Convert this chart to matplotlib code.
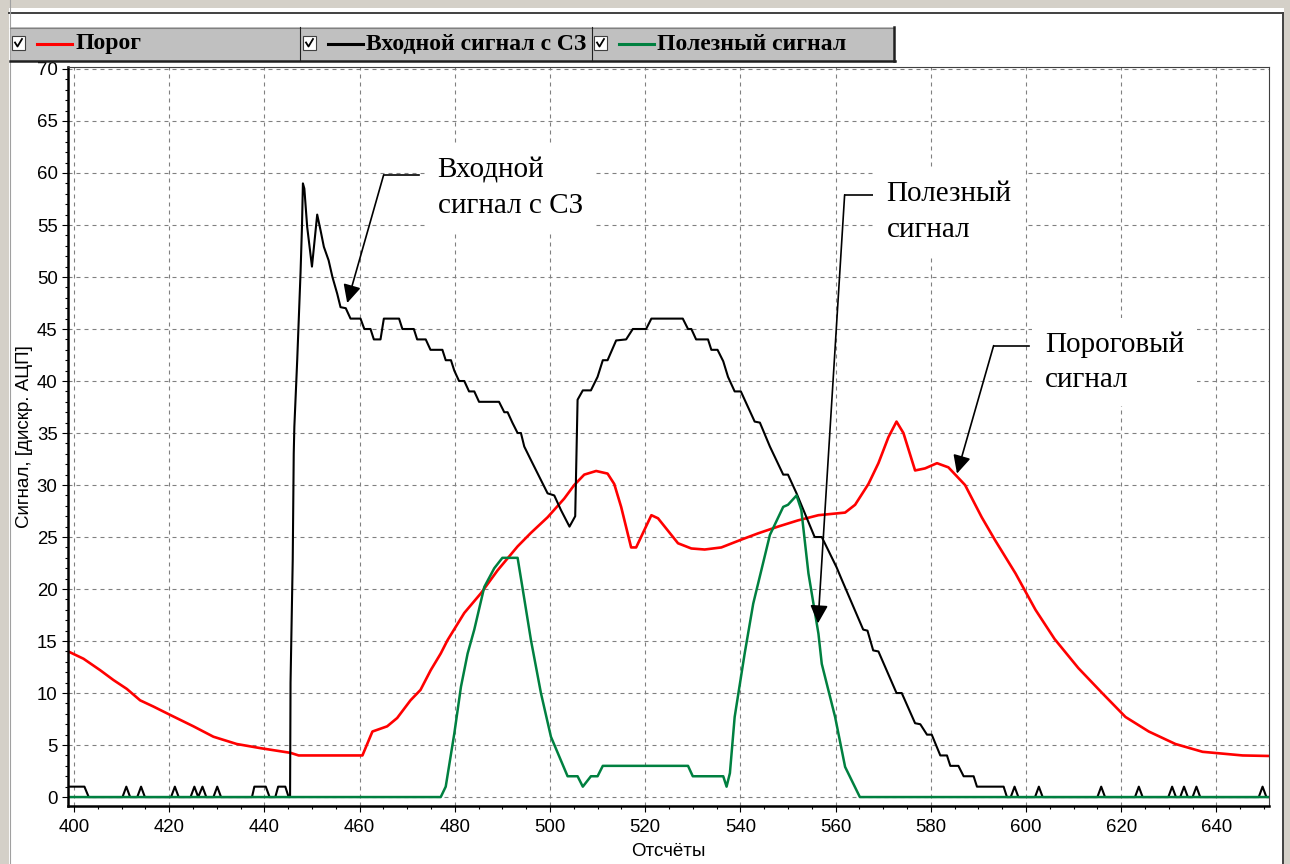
import matplotlib
matplotlib.use("Agg")
import matplotlib.pyplot as plt
from matplotlib.patches import Rectangle
from matplotlib.lines import Line2D
from matplotlib.ticker import MultipleLocator
from matplotlib.transforms import Affine2D

# values (breakpoints of each trace)
porog_x = [398.8, 402.0, 405.5, 408.3, 411.1, 413.9, 416.7, 420.2, 425.1, 429.3,
           434.2, 439.2, 445.5, 447.2, 460.6, 462.7, 465.8, 467.9, 470.7, 472.8,
           474.95, 477.05, 478.5, 482.0, 485.5, 489.0, 493.2, 496.0, 499.5, 503.0,
           505.1, 507.2, 509.7, 512.1, 513.5, 514.95, 517.05, 518.1, 521.3, 522.7,
           526.9, 529.7, 532.5, 536.0, 540.2, 543.7, 547.9, 552.1, 556.4, 562.0,
           564.1, 566.9, 569.0, 571.1, 572.8, 574.25, 576.7, 578.8, 581.3, 583.7,
           587.2, 590.7, 593.5, 597.8, 602.0, 606.0, 611.0, 616.0, 620.9, 625.8,
           631.4, 637.1, 645.5, 651.0]
porog_y = [14.0, 13.3, 12.2, 11.25, 10.4, 9.3, 8.7, 7.9, 6.8, 5.8,
           5.1, 4.7, 4.25, 4.0, 4.0, 6.3, 6.8, 7.6, 9.3, 10.3,
           12.2, 13.8, 15.1, 17.7, 19.6, 21.8, 24.1, 25.4, 26.9, 28.7,
           30.0, 31.0, 31.35, 31.1, 30.1, 27.9, 24.0, 24.0, 27.1, 26.8,
           24.4, 23.9, 23.8, 24.0, 24.75, 25.35, 26.0, 26.6, 27.1, 27.35,
           28.1, 30.1, 32.1, 34.6, 36.1, 35.0, 31.4, 31.6, 32.1, 31.7,
           30.0, 26.9, 24.7, 21.5, 18.0, 15.2, 12.4, 10.0, 7.7, 6.3,
           5.1, 4.35, 4.0, 3.95]

vhod_x = [398.8, 402.2, 403.1,
          410.2, 411.0, 411.8, 413.3, 414.1, 414.9, 420.4, 421.2, 422.0,
          424.5, 425.3, 426.1, 427.0, 427.8, 429.3, 430.1, 430.9,
          437.4, 437.9, 440.3, 441.1, 442.3, 442.9, 444.4, 445.1,
          445.4, 445.5, 445.96, 446.17, 446.3, 446.9, 447.6, 447.9, 448.1, 448.4,
          449.0, 450.0, 451.1, 451.8, 452.5, 453.5, 454.3, 455.3, 456.0, 457.1,
          458.1, 460.2, 461.0, 462.3, 463.0, 464.4, 465.1, 468.3, 469.0, 471.4,
          472.1, 473.9, 474.9, 477.4, 478.1, 479.2, 479.9, 480.9, 482.0, 483.0,
          484.1, 485.1, 489.3, 490.4, 491.1, 492.1, 493.2, 493.9, 494.6, 496.0,
          499.5, 500.9, 502.3, 504.1, 505.3, 505.8, 506.9, 508.6, 510.0, 511.1,
          512.1, 513.9, 516.0, 517.4, 520.2, 521.3, 527.9, 529.0, 529.7, 530.7,
          533.2, 533.9, 535.2, 536.4, 537.4, 538.8, 540.1, 543.0, 544.1, 546.2,
          549.0, 550.0, 551.8, 555.6, 557.1, 560.2, 561.3, 565.8, 566.7, 567.9,
          569.0, 572.8, 573.9, 576.7, 577.8, 579.2, 580.2, 582.0, 583.4, 584.1,
          585.8, 586.9, 589.0, 589.7, 595.3, 596.0,
          596.8, 597.6, 598.4, 601.9, 602.7, 603.5, 615.0, 615.8, 616.6,
          622.9, 623.7, 624.5, 629.9, 630.7, 631.5, 632.4, 633.2, 634.0,
          635.0, 635.8, 636.6, 648.9, 649.7, 650.5, 651.0]
vhod_y = [1, 1, 0,
          0, 1, 0, 0, 1, 0, 0, 1, 0,
          0, 1, 0, 1, 0, 0, 1, 0,
          0, 1, 1, 0, 0, 1, 1, 0,
          0, 11, 22.8, 33, 35.6, 42, 50.4, 54.8, 59, 58.5,
          54.8, 51.0, 56.0, 54.5, 52.9, 51.6, 50.0, 48.4, 47.1, 47,
          46, 46, 45, 45, 44, 44, 46, 46, 45, 45,
          44, 44, 43, 43, 42, 42, 41, 40, 40, 39,
          39, 38, 38, 37, 37, 36, 35, 35, 33.7, 32.4,
          29.2, 29.0, 27.6, 26.0, 27.0, 38.2, 39.1, 39.1, 40.4, 42,
          42, 43.9, 44, 45, 45, 46, 46, 45, 45, 44,
          44, 43, 43, 41.9, 40.4, 39, 39, 36.1, 36, 33.7,
          31, 31, 29.2, 25, 25, 22.1, 20.9, 16.1, 16, 14.1,
          14, 10, 10, 7.1, 7, 6, 6, 4, 4, 3,
          3, 2, 2, 1, 1, 0,
          0, 1, 0, 0, 1, 0, 0, 1, 0,
          0, 1, 0, 0, 1, 0, 0, 1, 0,
          0, 1, 0, 0, 1, 0, 0]

polezn_x = [398.8, 477.05, 478.1, 479.9, 481.3, 482.7, 484.1, 486.2, 488.3, 490.0,
            493.2, 494.2, 496.0, 498.1, 500.2, 503.7, 505.8, 506.9, 508.6, 510.0,
            511.1, 529.0, 530.0, 536.4, 537.1, 537.8, 538.8, 540.9, 542.7, 544.4,
            546.2, 549.0, 550.0, 551.8, 552.8, 554.3, 556.4, 557.1, 559.9, 562.0,
            565.1, 651.0]
polezn_y = [0, 0, 1.0, 6.1, 10.6, 13.8, 16.1, 20.2, 22.0, 23.0,
            23.0, 20.2, 15.1, 10.0, 5.8, 2.0, 2.0, 1.0, 2.0, 2.0,
            3.0, 3.0, 2.0, 2.0, 1.0, 2.3, 7.7, 13.8, 18.6, 21.8,
            25.2, 27.9, 28.1, 29.0, 27.6, 21.5, 15.7, 12.8, 7.7, 2.9,
            0, 0]

series_names = ["Порог", "Входной сигнал с СЗ", "Полезный сигнал"]
series_colors = ["#ff0000", "#000000", "#008040"]

x_label = "Отсчёты"
y_label = "Сигнал, [дискр. АЦП]"

# callouts: text, text top-left, elbow, end of shelf, arrow tip (data units)
callouts = [
    ("Входной\nсигнал с СЗ", (476.4, 61.5), (465.05, 59.8), (472.4, 59.8), (457.4, 47.5)),
    ("Полезный\nсигнал", (570.7, 59.2), (561.9, 57.9), (569.7, 57.9), (556.3, 16.7)),
    ("Пороговый\nсигнал", (604.0, 44.8), (593.2, 43.4), (600.6, 43.4), (585.5, 31.1)),
]

W, H = 1290, 864
fig = plt.figure(figsize=(W / 100, H / 100), dpi=100)
px = Affine2D().scale(1 / W, -1 / H).translate(0, 1) + fig.transFigure


def box(x0, y0, x1, y1, z=-10, **kw):
    fig.add_artist(Rectangle((x0, y0), x1 - x0, y1 - y0, transform=px, zorder=z, **kw))


def seg(xs, ys, z=5, **kw):
    fig.add_artist(Line2D(xs, ys, transform=px, zorder=z, **kw))


# window frame
box(0, 0, W, H, facecolor="#d4d0c8", edgecolor="none")
box(9, 8, 1284, H, facecolor="white", edgecolor="none")
seg([9, 1283], [12.5, 12.5], color="#404040", lw=1.4)
seg([1282.5, 1282.5], [12.5, H], color="#404040", lw=1.4)
seg([9.5, 9.5], [0, H], color="#a0a0a0", lw=0.8)

# legend strip like the original program
box(10, 27, 894, 61, z=4, facecolor="#c0c0c0", edgecolor="none")
seg([10, 894], [27.5, 27.5], color="#808080", lw=0.8)
seg([10, 895], [60.5, 60.5], color="#202020", lw=1.8)
seg([894, 894], [27, 61], color="#202020", lw=1.8)
for xs in (299.5, 591.5):
    seg([xs, xs], [27, 61], color="#202020", lw=0.8)

cells = [12, 303, 594]
for x0, name, col in zip(cells, series_names, series_colors):
    box(x0, 36, x0 + 13, 50, z=5, facecolor="white", edgecolor="#404040", lw=0.8)
    seg([x0 + 3, x0 + 5.5, x0 + 10], [42.5, 46.5, 39], z=6, color="black", lw=1.3)
    seg([x0 + 25, x0 + 60], [43.5, 43.5], color=col, lw=2.2)
    fig.text((x0 + 63) / W, 1 - 44 / H, name, fontsize=17, fontweight="bold",
             family="Liberation Serif", ha="left", va="center", zorder=6)

ax = fig.add_axes([68 / W, 1 - 806 / H, (1269 - 68) / W, (806 - 66.7) / H])
ax.set_facecolor("white")

ax.plot(porog_x, porog_y, color=series_colors[0], lw=1.9)
ax.plot(vhod_x, vhod_y, color=series_colors[1], lw=1.5)
ax.plot(polezn_x, polezn_y, color=series_colors[2], lw=1.8)

ax.set_xlim(398.75, 651.05)
ax.set_ylim(-0.86, 70.22)
ax.xaxis.set_major_locator(MultipleLocator(20))
ax.xaxis.set_minor_locator(MultipleLocator(5))
ax.yaxis.set_major_locator(MultipleLocator(5))
ax.yaxis.set_minor_locator(MultipleLocator(1))

ax.set_axisbelow(True)
ax.grid(True, which="major", color="#808080", linestyle=(0, (3.6, 3.6)), lw=0.8)

for s in ("left", "bottom"):
    ax.spines[s].set_linewidth(1.8)
    ax.spines[s].set_color("black")
for s in ("top", "right"):
    ax.spines[s].set_linewidth(0.8)
    ax.spines[s].set_color("#404040")

tick_font = ["Liberation Sans Narrow", "Liberation Sans"]
ax.tick_params(which="major", direction="out", length=4.5, width=0.8, pad=3)
ax.tick_params(axis="x", which="major", pad=5)
ax.tick_params(which="minor", direction="out", length=2.2, width=0.8)
for lab in ax.get_xticklabels() + ax.get_yticklabels():
    lab.set_family(tick_font)
    lab.set_fontsize(13.4)

ax.set_xlabel(x_label, fontsize=13.5, family="Liberation Sans")
ax.set_ylabel(y_label, fontsize=13.5, family="Liberation Sans")
ax.xaxis.set_label_coords(0.5, -0.05)
ax.yaxis.set_label_coords(-0.029, 0.5)

for txt, (tx, ty), (ex, ey), (sx, sy), (hx, hy) in callouts:
    ax.plot([ex, sx], [ey, sy], color="black", lw=1.2)
    ax.annotate("", xy=(hx, hy), xytext=(ex, ey),
                arrowprops=dict(arrowstyle="-|>,head_length=0.55,head_width=0.27",
                                color="black", lw=1.2, shrinkA=0, shrinkB=0,
                                mutation_scale=20))
    ax.text(tx, ty, txt, fontsize=21, family="Liberation Serif", ha="left", va="top",
            linespacing=1.48, zorder=3,
            bbox=dict(boxstyle="square,pad=0.45", facecolor="white", edgecolor="none"))

fig.savefig("out.png", dpi=100)
